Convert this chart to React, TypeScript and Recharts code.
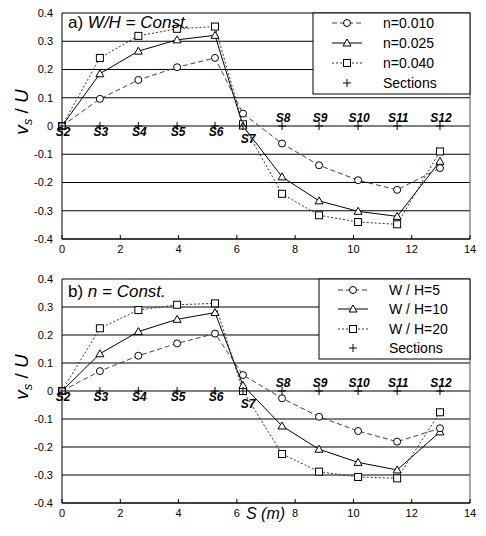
import React from "react";
import {
  ComposedChart,
  Line,
  XAxis,
  YAxis,
  CartesianGrid,
  ReferenceLine,
} from "recharts";

const sections = ["S2", "S3", "S4", "S5", "S6", "S7", "S8", "S9", "S10", "S11", "S12"];
const sectionX = [0, 1.3, 2.62, 3.95, 5.25, 6.21, 7.55, 8.82, 10.16, 11.5, 12.97];

// a) W/H = Const.
const n010 = [0, 0.096, 0.163, 0.208, 0.241, 0.044, -0.062, -0.139, -0.192, -0.226, -0.149];
const n025 = [0, 0.185, 0.265, 0.305, 0.321, 0.0, -0.18, -0.265, -0.302, -0.32, -0.125];
const n040 = [0, 0.241, 0.319, 0.344, 0.352, 0.006, -0.24, -0.316, -0.34, -0.348, -0.09];

// b) n = Const.
const wh5 = [0, 0.071, 0.126, 0.17, 0.205, 0.057, -0.026, -0.092, -0.143, -0.181, -0.133];
const wh10 = [0, 0.133, 0.212, 0.256, 0.28, 0.02, -0.125, -0.208, -0.255, -0.282, -0.146];
const wh20 = [0, 0.224, 0.289, 0.308, 0.313, 0.0, -0.225, -0.288, -0.307, -0.312, -0.076];

const xTicks = [0, 2, 4, 6, 8, 10, 12, 14];
const yTicks = [0.4, 0.3, 0.2, 0.1, 0, -0.1, -0.2, -0.3, -0.4];

const legendA = ["n=0.010", "n=0.025", "n=0.040", "Sections"];
const legendB = ["W / H=5", "W / H=10", "W / H=20", "Sections"];

const FONT = "'Liberation Sans', Arial, sans-serif";
const BLUE = "#3434a8";

const makeRows = (s1: number[], s2: number[], s3: number[]) =>
  sectionX.map((x, i) => ({ x, name: sections[i], a: s1[i], b: s2[i], c: s3[i], sec: 0 }));

const circleShape = (cx: number, cy: number, key?: any) => (
  <circle key={key} cx={cx} cy={cy} r={3.5} fill="#fff" stroke="#000" strokeWidth={1} />
);
const triShape = (cx: number, cy: number, key?: any) => (
  <path
    key={key}
    d={`M${cx},${cy - 4}L${cx + 4},${cy + 3}L${cx - 4},${cy + 3}Z`}
    fill="#fff"
    stroke="#000"
    strokeWidth={1}
  />
);
const sqShape = (cx: number, cy: number, key?: any) => (
  <rect key={key} x={cx - 3.5} y={cy - 3.5} width={7} height={7} fill="#fff" stroke="#000" strokeWidth={1} />
);
const plusShape = (cx: number, cy: number, key?: any) => (
  <path key={key} d={`M${cx - 4},${cy}H${cx + 4}M${cx},${cy - 4}V${cy + 4}`} stroke="#000" strokeWidth={1} />
);

const sectionDot = (p: any) => {
  const { cx, cy, index, payload } = p;
  let tx = cx + 1;
  let ty = cy + 10;
  if (index >= 6) ty = cy - 4;
  if (payload.name === "S7") {
    tx = cx + 5;
    ty = cy + 17;
  }
  return (
    <g key={`sec-${index}`}>
      {plusShape(cx, cy)}
      <text
        x={tx}
        y={ty}
        textAnchor="middle"
        fontFamily={FONT}
        fontSize={12}
        fontWeight="bold"
        fontStyle="italic"
        fill="#000"
      >
        {payload.name}
      </text>
    </g>
  );
};

type PanelProps = {
  rows: any[];
  height: number;
  top: number;
  xHeight: number;
  title: [string, string];
  titleY: number;
  labelY: number;
  legend: string[];
  box: { x: number; y: number; w: number; h: number; items: number[] };
  xLabel?: boolean;
};

function Panel(props: PanelProps) {
  const { rows, height, top, xHeight, title, titleY, labelY, legend, box, xLabel } = props;
  const sx = box.x + 34;
  const samples = [
    { stroke: BLUE, dash: "5 3", shape: circleShape },
    { stroke: "#000", dash: undefined, shape: triShape },
    { stroke: "#333", dash: "2 2", shape: sqShape },
  ];
  return (
    <div style={{ position: "relative", width: 486, height }}>
      <ComposedChart
        width={486}
        height={height}
        data={rows}
        margin={{ top, right: 16, bottom: 0, left: 0 }}
      >
        <CartesianGrid vertical={false} stroke="#000" strokeWidth={1} />
        <XAxis
          type="number"
          dataKey="x"
          domain={[0, 14]}
          ticks={xTicks}
          interval={0}
          height={xHeight}
          tickSize={-4}
          tickMargin={10}
          axisLine={{ stroke: "#000" }}
          tickLine={{ stroke: "#000" }}
          tick={{ fontSize: 11, fill: "#000", fontFamily: FONT }}
        />
        <YAxis
          type="number"
          domain={[-0.4, 0.4]}
          ticks={yTicks}
          interval={0}
          width={62}
          tickSize={0}
          tickMargin={9}
          tickLine={false}
          axisLine={{ stroke: "#000" }}
          tick={{ fontSize: 11, fill: "#000", fontFamily: FONT }}
          tickFormatter={(v: number) => (v === 0 ? "0" : v.toFixed(1))}
        />
        <ReferenceLine x={14} stroke="#555" />
        <Line
          dataKey="c"
          type="linear"
          stroke="#333"
          strokeDasharray="2 2"
          strokeWidth={1}
          dot={(p: any) => sqShape(p.cx, p.cy, `c-${p.index}`)}
          activeDot={false}
          isAnimationActive={false}
        />
        <Line
          dataKey="b"
          type="linear"
          stroke="#000"
          strokeWidth={1}
          dot={(p: any) => triShape(p.cx, p.cy, `b-${p.index}`)}
          activeDot={false}
          isAnimationActive={false}
        />
        <Line
          dataKey="a"
          type="linear"
          stroke={BLUE}
          strokeDasharray="5 3"
          strokeWidth={1}
          dot={(p: any) => circleShape(p.cx, p.cy, `a-${p.index}`)}
          activeDot={false}
          isAnimationActive={false}
        />
        <Line
          dataKey="sec"
          type="linear"
          stroke="none"
          dot={sectionDot}
          activeDot={false}
          isAnimationActive={false}
        />
      </ComposedChart>
      <svg
        width={486}
        height={height}
        style={{ position: "absolute", left: 0, top: 0, pointerEvents: "none" }}
        fontFamily={FONT}
      >
        <text x={68} y={titleY} fontSize={17} fill="#000">
          <tspan>{title[0]}</tspan>
          <tspan fontStyle="italic">{title[1]}</tspan>
        </text>
        <text
          transform={`translate(28,${labelY}) rotate(-90)`}
          textAnchor="middle"
          fontSize={19}
          fill="#000"
        >
          <tspan fontStyle="italic">v</tspan>
          <tspan fontSize={13} dy={4} fontStyle="italic">s</tspan>
          <tspan dy={-4}> / </tspan>
          <tspan fontStyle="italic">U</tspan>
        </text>
        <rect x={box.x} y={box.y} width={box.w} height={box.h} fill="#fff" stroke="#000" strokeWidth={1} />
        {legend.map((label, i) => {
          const y = box.items[i];
          return (
            <g key={label}>
              {i < 3 ? (
                <>
                  <line
                    x1={sx - 15}
                    x2={sx + 15}
                    y1={y}
                    y2={y}
                    stroke={samples[i].stroke}
                    strokeDasharray={samples[i].dash}
                  />
                  {samples[i].shape(sx, y)}
                </>
              ) : (
                plusShape(sx, y)
              )}
              <text x={box.x + 70} y={y} dy="0.35em" fontSize={14} fill="#000">
                {label}
              </text>
            </g>
          );
        })}
        {xLabel && (
          <text x={246} y={257} fontSize={16} fontStyle="italic" fill="#000">
            S (m)
          </text>
        )}
      </svg>
    </div>
  );
}

export default function App() {
  return (
    <div style={{ position: "absolute", left: 0, top: 0, width: 486, height: 536, background: "#fff" }}>
      <Panel
        rows={makeRows(n010, n025, n040)}
        height={262}
        top={13}
        xHeight={23}
        title={["a) ", "W/H = Const."]}
        titleY={28}
        labelY={112}
        legend={legendA}
        box={{ x: 313, y: 13, w: 157, h: 81, items: [23, 43, 63, 83] }}
      />
      <Panel
        rows={makeRows(wh5, wh10, wh20)}
        height={274}
        top={17}
        xHeight={33}
        title={["b) ", "n = Const."]}
        titleY={35}
        labelY={115}
        legend={legendB}
        box={{ x: 319, y: 17, w: 151, h: 80, items: [28, 47, 67, 86] }}
        xLabel
      />
    </div>
  );
}
